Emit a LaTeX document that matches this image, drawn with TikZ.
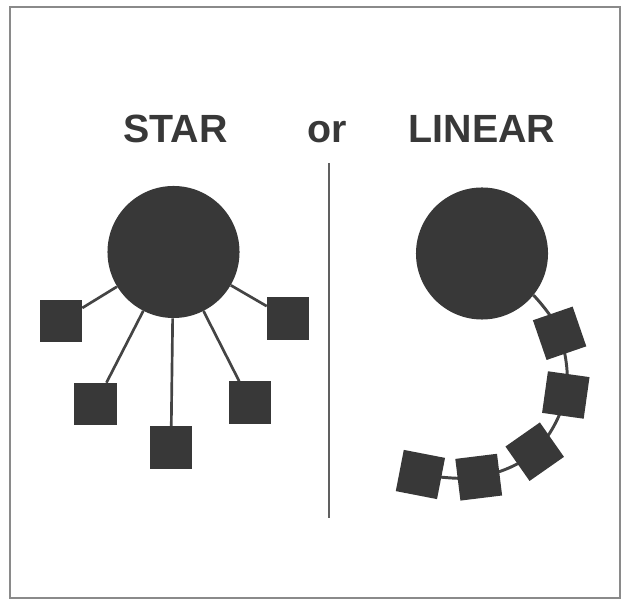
\documentclass[tikz,border=0pt]{standalone}
\usepackage{fontspec}
\setmainfont{Liberation Sans}
\usepackage{xcolor}
\usetikzlibrary{
  positioning,
  backgrounds
}
\definecolor{ink}{HTML}{383838}
\definecolor{wire}{HTML}{444444}
\definecolor{rim}{HTML}{8A8A8A}
\tikzset{
  hub/.style={
    circle,
    fill=ink,
    minimum size=3.3cm,
    inner sep=0pt,
  },
  station/.style={
    rectangle,
    fill=ink,
    minimum size=1.05cm,
    inner sep=0pt,
  },
  link/.style={
    draw=wire,
    line width=1.9pt,
  },
  chain/.style={
    draw=wire,
    line width=2.1pt,
  },
  title/.style={
    font=\fontsize{28}{31}\selectfont\bfseries,
    text=ink,
    anchor=base,
    inner sep=0pt,
  },
}

\begin{document}
\begin{tikzpicture}[x=0.025cm, y=0.025cm]
  \useasboundingbox (0,0) rectangle (623,604);
  % --- frame and divider ---
  \draw[rim, line width=1.3pt] (10,6) rectangle (620,597);
  \draw[wire!85, line width=1.5pt] (329,441) -- (329,86);

  % --- titles ---
  \node[title] (star) at (175.5,461) {STAR};
  \node[title] (or)   at (327.5,461) {or};
  \node[title] (lin)  at (482,461) {LINEAR};

  % --- star layout (left) ---
  \node[hub] (hubA) at (173.5,352) {};
  \node[station] (s1) at (61,283) {};
  \node[station] (s2) at (95.5,200) {};
  \node[station] (s3) at (171,156.5) {};
  \node[station] (s4) at (250,201.5) {};
  \node[station] (s5) at (288,285.5) {};

  \begin{pgfonlayer}{background}
    \foreach \s in {s1,s2,s3,s4,s5}
      \draw[link] (hubA) -- (\s);
  \end{pgfonlayer}

  % --- linear layout (right) ---
  \node[hub] (hubB) at (482,350.5) {};
  \node[station, rotate=19]  (l1) at (559.6,270.7) {};
  \node[station, rotate=-8]  (l2) at (565.8,209) {};
  \node[station, rotate=35]  (l3) at (534.7,152.3) {};
  \node[station, rotate=7]   (l4) at (478.7,126.8) {};
  \node[station, rotate=-11] (l5) at (420.4,129.5) {};

  \begin{pgfonlayer}{background}
    \draw[chain] plot[smooth, tension=0.6] coordinates
      {(hubB.-39) (l1) (l2) (l3) (l4) (l5)};
  \end{pgfonlayer}
\end{tikzpicture}
\end{document}
